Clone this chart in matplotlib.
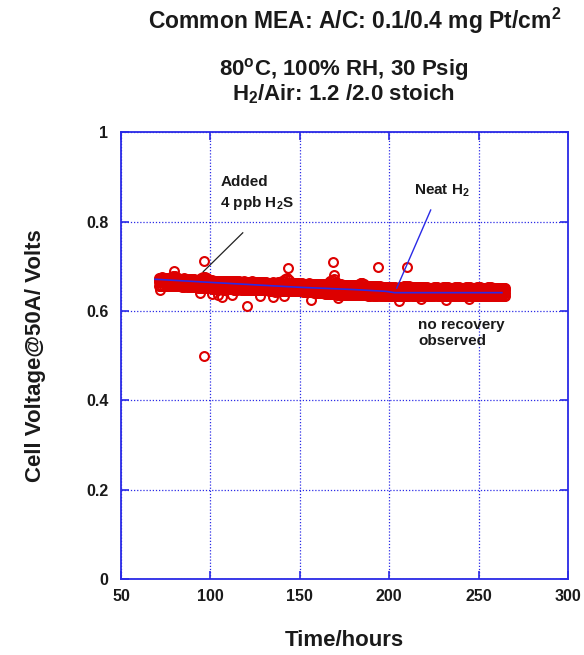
import numpy as np
import matplotlib
matplotlib.use("Agg")
import matplotlib.pyplot as plt

plt.rcParams['font.family'] = ['Liberation Sans', 'DejaVu Sans']
plt.rcParams['font.weight'] = 'bold'
plt.rcParams['mathtext.fontset'] = 'custom'
plt.rcParams['mathtext.rm'] = 'Liberation Sans:bold'
plt.rcParams['mathtext.it'] = 'Liberation Sans:bold'
plt.rcParams['mathtext.bf'] = 'Liberation Sans:bold'

# ---------------- data (hours, mV) ----------------
t_odd = list(range(71, 266, 2))      # 71 .. 265
t_even = list(range(72, 265, 2))     # 72 .. 264

v_row1 = [674, 675, 673, 674, 679,
          676, 672, 673, 671, 672,
          671, 670, 673, 676, 669,
          669, 668, 668, 667, 668,
          667, 666, 667, 665, 666,
          665, 666, 664, 665, 664,
          664, 663, 664, 663, 665,
          668, 674, 663, 662, 662,
          662, 661, 662, 661, 660,
          661, 660, 661, 666, 672,
          661, 660, 659, 659, 658,
          658, 660, 663, 657, 656,
          656, 655, 655, 654, 653,
          653, 653, 652, 654, 656,
          655, 654, 653, 653, 653,
          653, 652, 653, 653, 652,
          653, 653, 652, 653, 653,
          652, 653, 653, 652, 653,
          653, 652, 653, 653, 652,
          652, 652, 651]

v_row8 = [669, 670, 669, 669, 672,
          670, 667, 668, 666, 667,
          666, 665, 667, 669, 664,
          664, 663, 663, 662, 663,
          662, 661, 661, 660, 661,
          660, 660, 659, 659, 658,
          658, 658, 658, 657, 658,
          661, 663, 657, 657, 656,
          656, 656, 655, 655, 654,
          654, 654, 654, 656, 659,
          653, 652, 652, 651, 651,
          650, 652, 654, 649, 649,
          649, 648, 648, 647, 647,
          647, 646, 646, 647, 649,
          648, 648, 647, 647, 647,
          647, 647, 646, 647, 647,
          646, 647, 647, 646, 647,
          647, 647, 646, 647, 647,
          646, 647, 647, 646, 647,
          647, 646, 646]

v_row3 = [664, 665, 663, 664, 665,
          664, 662, 662, 661, 662,
          661, 660, 661, 662, 659,
          659, 658, 658, 657, 658,
          657, 656, 656, 655, 656,
          655, 655, 654, 654, 653,
          653, 653, 653, 652, 652,
          653, 654, 652, 652, 651,
          651, 650, 650, 649, 649,
          648, 648, 647, 647, 648,
          646, 646, 645, 645, 645,
          645, 646, 646, 644, 644,
          644, 643, 643, 642, 642,
          642, 641, 641, 641, 642,
          643, 642, 642, 642, 641,
          642, 642, 641, 642, 642,
          641, 642, 642, 641, 642,
          642, 641, 642, 642, 641,
          642, 642, 641, 642, 642,
          641, 642, 641]

v_row6 = [657, 656, 656, 656, 655,
          655, 655, 654, 654, 653,
          653, 652, 652, 651, 651,
          650, 649, 649, 648, 649,
          649, 648, 648, 648, 647,
          647, 647, 646, 646, 646,
          646, 645, 644, 645, 645,
          645, 644, 644, 645, 644,
          644, 643, 642, 642, 641,
          640, 640, 639, 638, 638,
          636, 636, 636, 635, 635,
          635, 635, 635, 635, 634,
          634, 634, 634, 634, 634,
          634, 633, 634, 633, 634,
          634, 634, 634, 634, 633,
          634, 634, 634, 634, 634,
          633, 634, 634, 634, 633,
          634, 634, 633, 634, 634,
          634, 633, 634, 634, 634,
          633, 634, 634]

v_row5 = [674, 674, 673, 676, 678,
          674, 672, 672, 671, 671,
          670, 671, 675, 673, 669,
          668, 668, 667, 667, 667,
          666, 666, 666, 665, 665,
          665, 665, 664, 664, 664,
          663, 663, 663, 664, 666,
          672, 669, 662, 662, 662,
          661, 661, 661, 660, 660,
          660, 660, 663, 670, 665,
          660, 659, 659, 658, 658,
          659, 662, 660, 656, 656,
          655, 655, 654, 653, 653,
          653, 652, 653, 655, 656,
          654, 653, 653, 653, 653,
          652, 652, 653, 652, 653,
          653, 652, 652, 653, 652,
          652, 653, 652, 652, 653,
          652, 652, 653, 652, 652,
          652, 651]

v_row2 = [669, 670, 668, 669, 671,
          668, 667, 667, 666, 667,
          666, 665, 666, 668, 664,
          663, 663, 662, 663, 662,
          661, 661, 660, 660, 660,
          660, 659, 659, 658, 658,
          658, 657, 657, 657, 658,
          660, 659, 657, 656, 656,
          656, 655, 655, 654, 654,
          654, 653, 654, 657, 655,
          652, 652, 651, 651, 650,
          651, 652, 650, 649, 649,
          648, 648, 647, 647, 647,
          646, 646, 646, 648, 649,
          648, 647, 647, 647, 647,
          647, 646, 647, 647, 646,
          647, 647, 646, 647, 647,
          647, 646, 647, 647, 646,
          647, 647, 646, 647, 647,
          646, 646]

v_row7 = [664, 664, 664, 665, 664,
          663, 662, 661, 661, 661,
          660, 660, 662, 660, 659,
          658, 658, 657, 657, 657,
          656, 656, 655, 655, 655,
          655, 654, 654, 653, 653,
          653, 653, 652, 652, 652,
          653, 653, 652, 651, 651,
          650, 650, 649, 649, 648,
          648, 647, 647, 647, 647,
          646, 645, 645, 645, 645,
          645, 646, 645, 644, 644,
          643, 643, 642, 642, 642,
          641, 641, 641, 642, 642,
          642, 642, 642, 641, 642,
          642, 641, 642, 642, 641,
          642, 642, 641, 642, 642,
          641, 642, 642, 641, 642,
          642, 641, 642, 642, 641,
          642, 641]

v_row4 = [657, 656, 657, 655, 656,
          655, 654, 655, 654, 653,
          653, 652, 652, 651, 651,
          650, 648, 651, 647, 650,
          649, 648, 649, 648, 647,
          648, 647, 647, 646, 647,
          646, 645, 643, 645, 645,
          645, 644, 645, 644, 645,
          643, 642, 643, 641, 641,
          640, 639, 639, 638, 637,
          636, 636, 635, 636, 635,
          635, 636, 635, 634, 635,
          634, 635, 634, 634, 634,
          633, 634, 633, 634, 634,
          635, 634, 634, 633, 634,
          634, 634, 635, 634, 633,
          634, 634, 633, 634, 634,
          634, 633, 634, 634, 634,
          633, 634, 634, 634, 633,
          634, 634]

# isolated readings
t_out = [96.3, 96.3, 79.6, 143.2, 168.8, 193.7, 210.2, 120.4, 71.6, 156.4,
         171.4, 94.4, 101.0, 104.0, 106.5, 135.0, 205.6, 217.6, 231.5, 244.4,
         184.3, 112.0, 128.0, 141.0, 168.9]
v_out = [713, 499, 689, 697, 710, 699, 699, 612, 647, 625,
         628, 640, 637, 635, 632, 632, 623, 626, 625, 626,
         663, 635, 634, 633, 680]

# trend line
t_fit = [69, 100, 150, 180, 198, 203, 208, 263]
v_fit = [0.671, 0.664, 0.653, 0.648, 0.644, 0.641, 0.641, 0.641]

x_ticks = [50, 100, 150, 200, 250, 300]
y_ticks = [0, 0.2, 0.4, 0.6, 0.8, 1]

# ---------------- figure ----------------
W, H = 584, 655
fig = plt.figure(figsize=(W / 100, H / 100), dpi=100)
ax = fig.add_axes([121 / W, 1 - 579 / H, (568 - 121) / W, (579 - 132.3) / H])

red = '#dd0000'
blue = '#2a2ae6'
txt = '#1a1a1a'

mk = dict(linestyle='none', marker='o', ms=6.4, mfc='none', mec=red, mew=1.5)
series = [(t_odd, v_row1), (t_even, v_row5), (t_odd, v_row8), (t_even, v_row2),
          (t_odd, v_row3), (t_even, v_row7), (t_odd, v_row6), (t_even, v_row4)]
for tt, vv in series:
    ax.plot(tt, np.array(vv) / 1000.0, **mk, zorder=3)
ax.plot(t_out, np.array(v_out) / 1000.0, **mk, zorder=3)
ax.plot(t_fit, v_fit, color=blue, lw=1.2, zorder=4)

ax.set_xlim(50, 300)
ax.set_ylim(0, 1)
ax.set_xticks(x_ticks)
ax.set_yticks(y_ticks)
ax.set_xticklabels([str(v) for v in x_ticks])
ax.set_yticklabels(['0', '0.2', '0.4', '0.6', '0.8', '1'])
ax.grid(True, color=blue, linestyle=(0, (1, 1.5)), linewidth=0.9)
ax.set_axisbelow(True)
for s in ax.spines.values():
    s.set_color(blue)
    s.set_linewidth(1.3)
ax.tick_params(direction='in', length=6, width=1.2, color=blue,
               top=True, right=True, labelsize=11.5, labelcolor=txt)
ax.tick_params(axis='x', pad=7)
ax.tick_params(axis='y', pad=9)
for lab in ax.get_xticklabels() + ax.get_yticklabels():
    lab.set_fontweight('bold')

ax.set_xlabel('Time/hours', fontsize=16, fontweight='bold', color=txt, labelpad=19)
ax.set_ylabel('Cell Voltage@50A/ Volts', fontsize=16, fontweight='bold', color=txt, labelpad=29)

# annotations
ax.text(105.6, 0.905, 'Added', fontsize=11, fontweight='bold', color=txt, va='top')
ax.text(105.6, 0.862, r'4 ppb H$_2$S', fontsize=11, fontweight='bold', color=txt, va='top')
ax.plot([118.1, 96.0], [0.775, 0.688], color='#222222', lw=0.9, zorder=5)

ax.text(213.9, 0.888, r'Neat H$_2$', fontsize=11, fontweight='bold', color=txt, va='top')
ax.plot([223.2, 204.2], [0.826, 0.651], color=blue, lw=1.0, zorder=5)

ax.text(216.3, 0.584, 'no recovery\nobserved', fontsize=11, fontweight='bold', color=txt,
        va='top', linespacing=1.15)

# titles
fig.text(355 / W, 1 - 21 / H, r'Common MEA: A/C: 0.1/0.4 mg Pt/cm$^2$', ha='center', va='center',
         fontsize=16.5, fontweight='bold', color=txt)
fig.text(344 / W, 1 - 70 / H, r'80$^{o}$C, 100% RH, 30 Psig', ha='center', va='center',
         fontsize=16, fontweight='bold', color=txt)
fig.text(343 / W, 1 - 94 / H, r'H$_2$/Air: 1.2 /2.0 stoich', ha='center', va='center',
         fontsize=16, fontweight='bold', color=txt)

fig.savefig('out.png', dpi=100)
